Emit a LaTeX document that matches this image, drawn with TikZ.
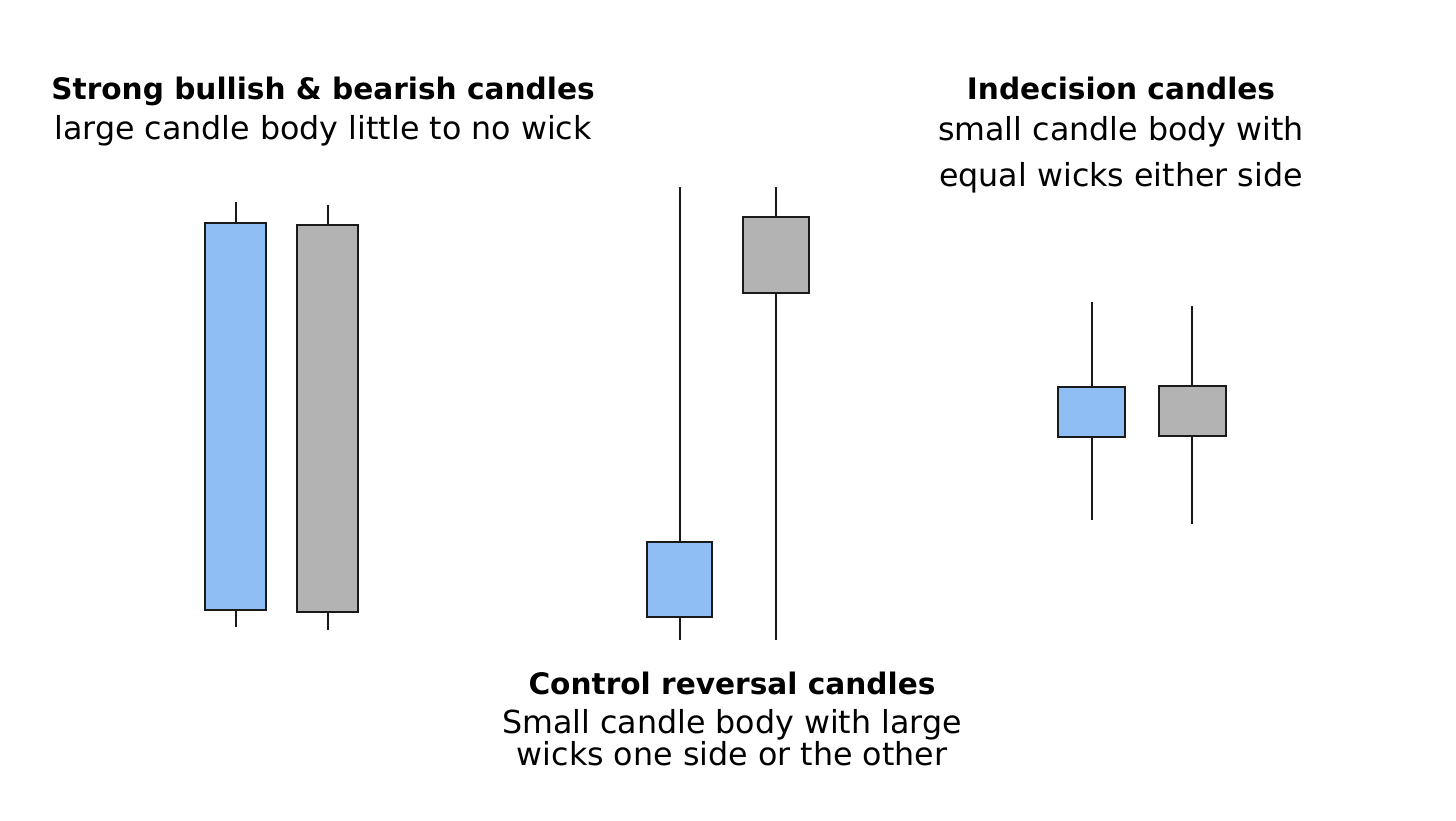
\documentclass[tikz,border=0pt]{standalone}
\usepackage{fontspec}
\setmainfont{DejaVu Sans}
\usepackage{tikz}
\usetikzlibrary{positioning}

\definecolor{bullblue}{HTML}{8FBEF4}
\definecolor{beargrey}{HTML}{B3B3B3}
\definecolor{inkline}{HTML}{1A1A1A}

\tikzset{
  body/.style={draw=inkline, line width=2.3pt, inner sep=0pt, minimum width=61pt},
  bull/.style={body, fill=bullblue},
  bear/.style={body, fill=beargrey},
  wick/.style={draw=inkline, line width=2.3pt},
  headline/.style={font=\fontsize{29.6}{34}\selectfont\bfseries, anchor=base},
  subline/.style={font=\fontsize{31.7}{34}\selectfont, align=center, anchor=base}
}

\begin{document}
\begin{tikzpicture}[x=1pt, y=-1pt]
  \useasboundingbox (0,0) rectangle (1456,820);
  % Strong bullish & bearish candles
  \node[bull, minimum height=387pt] (sbull) at (235.5,416.5) {};
  \node[bear, minimum height=387pt] (sbear) at (327.5,418.5) {};
  \coordinate (sbulltop) at (236,202);
  \coordinate (sbullbot) at (236,627);
  \coordinate (sbeartop) at (328,205);
  \coordinate (sbearbot) at (328,630);
  \draw[wick] (sbulltop) -- (sbulltop |- sbull.north);
  \draw[wick] (sbullbot) -- (sbullbot |- sbull.south);
  \draw[wick] (sbeartop) -- (sbeartop |- sbear.north);
  \draw[wick] (sbearbot) -- (sbearbot |- sbear.south);
  % Control reversal candles
  \node[bull, minimum width=65pt, minimum height=75pt] (rbull) at (679.5,579.5) {};
  \node[bear, minimum width=66pt, minimum height=76pt] (rbear) at (776,255) {};
  \coordinate (rbulltop) at (680,187);
  \coordinate (rbullbot) at (680,640);
  \coordinate (rbeartop) at (776,187);
  \coordinate (rbearbot) at (776,640);
  \draw[wick] (rbulltop) -- (rbulltop |- rbull.north);
  \draw[wick] (rbullbot) -- (rbullbot |- rbull.south);
  \draw[wick] (rbeartop) -- (rbeartop |- rbear.north);
  \draw[wick] (rbearbot) -- (rbearbot |- rbear.south);
  % Indecision candles
  \node[bull, minimum width=67pt, minimum height=50pt] (ibull) at (1091.5,412) {};
  \node[bear, minimum width=67pt, minimum height=50pt] (ibear) at (1192.5,411) {};
  \coordinate (ibulltop) at (1092,302);
  \coordinate (ibullbot) at (1092,520);
  \coordinate (ibeartop) at (1192,306);
  \coordinate (ibearbot) at (1192,524);
  \draw[wick] (ibulltop) -- (ibulltop |- ibull.north);
  \draw[wick] (ibullbot) -- (ibullbot |- ibull.south);
  \draw[wick] (ibeartop) -- (ibeartop |- ibear.north);
  \draw[wick] (ibearbot) -- (ibearbot |- ibear.south);
  % Labels
  \node[headline] (stronghead) at (323,99) {Strong bullish \& bearish candles};
  \node[subline] (strongsub) at (323,139) {large candle body little to no wick};
  \node[headline] (indhead) at (1121,99) {Indecision candles};
  \node[subline] (indsub) at (1121,186) {small candle body with\\[12pt]equal wicks either side};
  \node[headline] (revhead) at (732,694) {Control reversal candles};
  \node[subline, font=\fontsize{31.7}{32}\selectfont] (revsub) at (732,765) {Small candle body with large\\wicks one side or the other};
\end{tikzpicture}
\end{document}
